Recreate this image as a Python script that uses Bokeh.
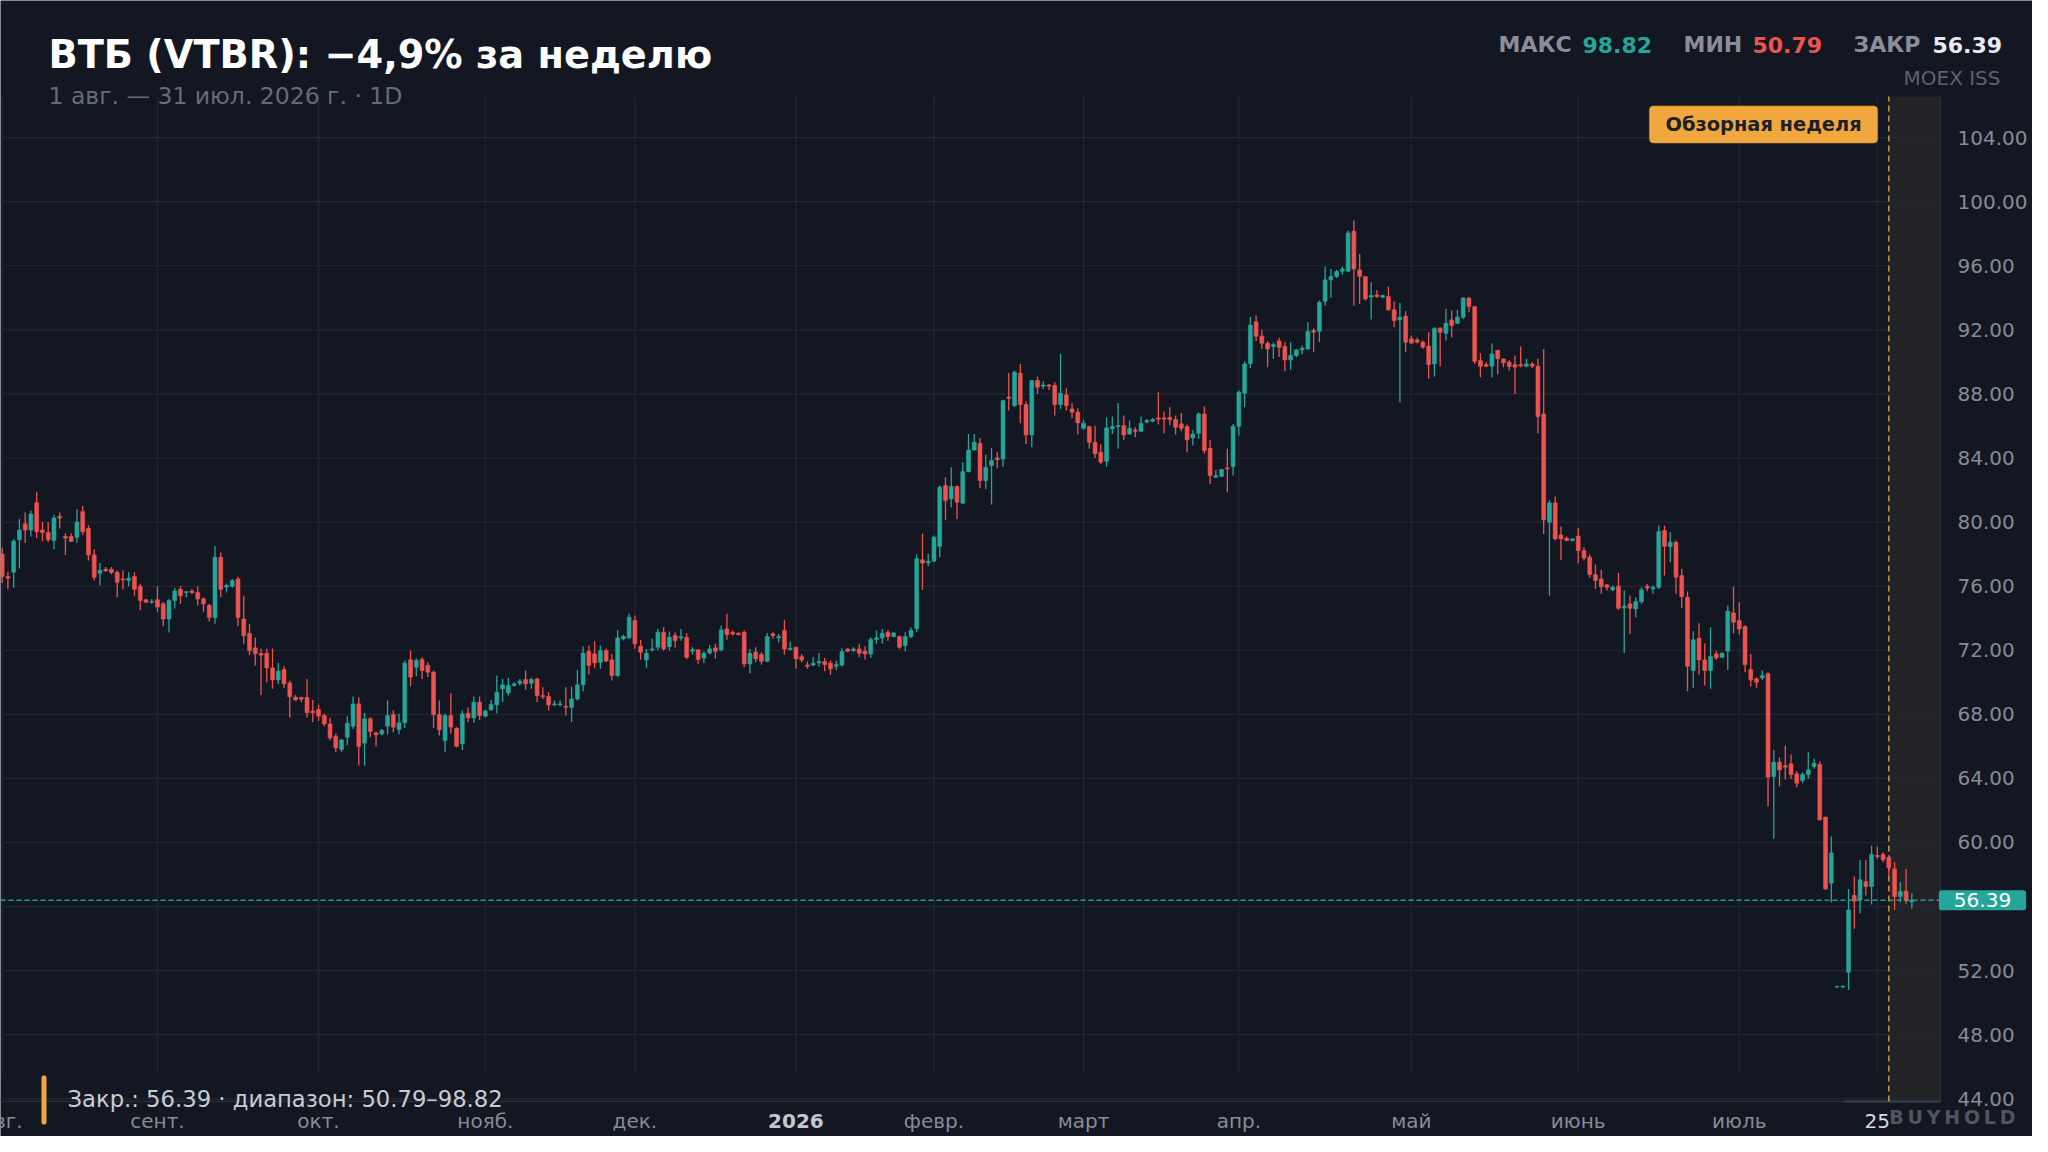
from bokeh.plotting import figure
from bokeh.models import (ColumnDataSource, Range1d, FixedTicker, NumeralTickFormatter,
                          Label, BoxAnnotation)
from bokeh.embed import file_html
from bokeh.resources import INLINE

# ---------------- data (daily candles, 1 Aug 2025 - 31 Jul 2026) ----------------
opens = [
    78.0, 76.6, 76.87, 78.9, 79.9, 79.5, 81.2, 79.5, 79.35, 78.85,
    80.35, 79.1, 79.1, 79.05, 80.65, 79.6, 77.95, 76.8, 77.05, 77.05,
    76.87, 76.45, 76.35, 76.6, 75.98, 75.15, 75.0, 75.15, 74.9, 73.95,
    75.1, 75.8, 75.6, 75.7, 75.6, 75.2, 74.8, 74.05, 77.8, 75.95,
    76.0, 76.45, 73.95, 73.05, 72.15, 71.8, 71.8, 70.9, 70.15, 70.8,
    69.95, 69.07, 69.05, 69.05, 68.2, 68.3, 67.92, 67.4, 66.63, 65.8,
    66.57, 67.26, 68.65, 66.2, 67.72, 66.84, 66.78, 67.26, 67.99, 67.05,
    67.47, 71.4, 70.94, 71.42, 71.05, 70.63, 67.99, 66.36, 67.92, 67.13,
    66.16, 68.07, 67.78, 68.76, 67.88, 68.28, 68.59, 69.59, 69.34, 69.8,
    69.94, 70.17, 69.94, 70.21, 69.17, 69.11, 68.59, 68.6, 68.5, 68.44,
    68.96, 69.84, 71.94, 71.78, 71.25, 71.98, 71.4, 70.42, 72.71, 72.77,
    73.85, 72.25, 71.4, 72.02, 72.19, 73.12, 72.23, 72.92, 72.77, 72.81,
    71.94, 72.02, 71.52, 71.83, 72.15, 72.02, 73.33, 73.12, 73.06, 73.12,
    71.15, 71.88, 71.73, 71.31, 73.02, 72.77, 73.23, 72.04, 72.19, 71.6,
    71.08, 71.08, 71.21, 71.29, 71.19, 71.0, 71.08, 72.08, 71.98, 72.08,
    71.94, 71.77, 72.67, 72.77, 73.12, 72.85, 72.85, 72.29, 72.85, 73.34,
    77.65, 77.46, 77.56, 78.48, 82.28, 81.45, 82.22, 81.18, 83.15, 84.5,
    84.92, 82.59, 83.53, 84.0, 83.94, 87.8, 87.27, 89.29, 87.34, 85.44,
    88.83, 88.48, 88.56, 88.52, 87.34, 87.94, 87.06, 86.86, 85.86, 85.96,
    84.98, 84.36, 83.8, 85.82, 85.96, 86.02, 85.5, 85.75, 85.67, 86.25,
    86.3, 86.5, 86.5, 86.54, 86.4, 86.13, 85.96, 85.25, 85.54, 86.75,
    84.61, 82.8, 82.86, 83.38, 83.47, 85.98, 88.04, 89.9, 92.5, 91.6,
    91.16, 90.96, 91.3, 90.96, 90.12, 90.4, 90.75, 90.81, 91.96, 91.91,
    93.79, 95.12, 95.33, 95.66, 95.66, 98.16, 95.74, 95.33, 94.04, 94.18,
    94.04, 94.08, 93.25, 92.62, 92.85, 91.44, 91.37, 91.23, 90.98, 89.87,
    92.1, 91.79, 92.62, 92.41, 92.79, 93.99, 93.45, 90.08, 89.83, 89.73,
    90.71, 90.19, 89.98, 89.83, 89.83, 89.73, 89.87, 89.73, 86.75, 79.99,
    81.2, 79.2, 78.99, 78.85, 79.12, 78.22, 77.81, 76.72, 76.45, 76.08,
    75.77, 76.0, 74.64, 74.89, 74.58, 75.04, 76.0, 75.83, 75.93, 79.47,
    78.47, 78.74, 76.66, 75.31, 70.73, 72.75, 71.4, 70.73, 71.77, 71.56,
    71.94, 74.33, 73.85, 73.48, 70.79, 70.21, 70.27, 70.53, 64.12, 65.01,
    64.8, 64.91, 64.28, 63.87, 64.24, 64.74, 64.87, 61.58, 57.46, 50.98,
    50.98, 51.9, 56.69, 56.42, 57.56, 57.25, 59.19, 59.25, 59.08, 58.35,
    56.63, 56.96, 56.3,
]
highs = [
    78.4, 76.9, 78.95, 80.2, 80.6, 80.7, 81.9, 80.0, 80.0, 80.45,
    80.6, 79.3, 79.3, 80.8, 81.0, 79.8, 78.3, 77.45, 77.2, 77.2,
    76.98, 77.0, 76.87, 76.87, 76.15, 75.2, 75.2, 76.0, 75.0, 75.2,
    75.9, 76.0, 75.7, 75.8, 75.98, 75.3, 74.9, 78.5, 78.1, 76.15,
    76.45, 76.6, 75.4, 73.65, 72.8, 72.1, 72.1, 72.1, 71.2, 71.0,
    70.1, 69.2, 69.1, 70.2, 68.9, 68.6, 68.03, 67.78, 66.78, 66.47,
    67.88, 69.11, 69.07, 68.09, 67.82, 66.93, 67.09, 68.86, 68.24, 68.03,
    71.36, 71.98, 71.5, 71.57, 71.25, 70.73, 68.86, 68.03, 69.32, 67.2,
    68.24, 68.44, 69.11, 69.11, 68.28, 68.9, 70.42, 70.21, 70.28, 70.0,
    70.21, 70.73, 70.28, 70.28, 69.69, 69.38, 68.86, 68.86, 69.69, 69.73,
    70.77, 72.23, 72.29, 72.56, 72.29, 72.09, 71.78, 73.27, 72.98, 74.27,
    74.17, 72.65, 72.08, 72.71, 73.33, 73.44, 73.17, 73.12, 73.33, 73.06,
    72.19, 72.08, 71.94, 72.33, 72.4, 73.54, 74.27, 73.23, 73.12, 73.23,
    72.08, 72.19, 71.88, 73.06, 73.12, 73.02, 73.9, 72.54, 72.19, 71.77,
    71.31, 71.6, 71.81, 71.52, 71.36, 71.36, 72.12, 72.12, 72.19, 72.4,
    72.23, 72.81, 73.23, 73.33, 73.27, 73.12, 72.92, 73.12, 73.44, 77.98,
    79.27, 78.02, 79.16, 82.28, 82.8, 83.43, 82.28, 83.74, 85.5, 85.5,
    85.25, 84.21, 84.63, 84.36, 87.63, 89.31, 89.46, 89.87, 87.54, 88.87,
    89.08, 88.79, 88.62, 88.73, 90.5, 88.35, 87.42, 87.1, 86.38, 86.02,
    86.02, 84.88, 86.54, 86.59, 87.44, 86.65, 86.34, 85.92, 86.59, 86.44,
    86.5, 88.1, 86.9, 87.17, 86.65, 86.81, 86.09, 85.75, 86.86, 87.21,
    85.13, 83.25, 83.32, 84.57, 86.13, 88.21, 90.04, 92.8, 92.9, 92.0,
    91.3, 91.2, 91.5, 91.23, 91.23, 90.81, 91.02, 92.48, 92.1, 93.83,
    95.95, 95.8, 95.74, 95.95, 98.2, 98.82, 96.74, 95.33, 94.97, 94.49,
    94.2, 94.7, 93.77, 93.68, 93.16, 91.64, 91.5, 91.33, 91.85, 92.16,
    92.16, 93.31, 93.2, 93.25, 94.04, 94.04, 93.45, 90.54, 89.98, 91.16,
    90.75, 90.19, 90.12, 90.4, 90.96, 90.19, 89.98, 90.19, 90.81, 81.38,
    81.59, 79.72, 79.1, 78.99, 79.64, 78.43, 77.97, 77.35, 77.01, 76.14,
    76.04, 76.83, 75.73, 75.41, 75.31, 75.93, 76.14, 76.04, 79.78, 79.78,
    79.37, 78.85, 77.08, 75.68, 73.19, 73.69, 72.44, 73.44, 71.98, 71.88,
    74.79, 75.97, 74.99, 73.54, 71.77, 70.31, 70.73, 70.63, 65.78, 65.32,
    66.05, 65.49, 64.45, 64.39, 65.64, 65.22, 65.07, 61.62, 60.37, 51.07,
    51.07, 57.1, 57.88, 58.91, 58.91, 59.81, 59.75, 59.39, 59.19, 58.77,
    57.52, 58.35, 56.83,
]
lows = [
    76.2, 75.8, 75.9, 77.1, 78.7, 79.1, 79.0, 78.8, 78.75, 78.3,
    79.6, 77.95, 78.75, 78.7, 79.2, 77.6, 76.35, 76.05, 76.9, 76.75,
    75.3, 75.8, 76.0, 75.4, 74.5, 74.95, 74.9, 74.4, 73.5, 73.1,
    74.6, 74.9, 75.3, 75.5, 74.8, 74.4, 73.8, 73.65, 75.3, 75.6,
    75.9, 73.5, 72.4, 71.7, 71.05, 69.2, 70.0, 69.6, 69.9, 69.65,
    67.8, 68.85, 68.75, 67.8, 67.5, 67.6, 67.26, 66.36, 65.64, 65.64,
    66.09, 67.09, 64.8, 64.8, 66.57, 66.01, 66.68, 66.74, 66.88, 66.74,
    67.15, 69.76, 70.38, 70.21, 70.32, 67.15, 66.68, 65.64, 66.78, 65.95,
    65.78, 67.51, 67.47, 67.65, 67.82, 68.24, 68.07, 68.76, 69.17, 69.73,
    69.8, 69.53, 69.59, 68.76, 68.96, 68.24, 68.51, 68.5, 67.92, 67.51,
    68.86, 69.44, 70.48, 70.88, 70.84, 71.3, 70.11, 70.32, 72.61, 72.71,
    72.09, 71.42, 70.9, 71.94, 71.98, 71.98, 71.98, 72.15, 72.6, 71.46,
    71.73, 71.15, 71.21, 71.73, 71.46, 71.94, 72.65, 72.92, 72.92, 70.94,
    70.57, 71.25, 71.1, 71.25, 72.71, 72.5, 71.73, 71.98, 70.84, 71.25,
    70.84, 71.0, 70.98, 70.69, 70.46, 70.77, 70.98, 71.88, 71.88, 71.56,
    71.42, 71.52, 72.4, 72.4, 72.6, 72.81, 72.08, 71.94, 72.77, 73.13,
    75.77, 77.25, 77.5, 77.81, 80.14, 80.93, 80.2, 81.13, 83.1, 84.46,
    82.11, 82.07, 81.09, 83.36, 83.46, 86.96, 87.17, 86.17, 84.88, 84.67,
    88.0, 88.31, 88.25, 86.65, 87.06, 86.96, 86.48, 85.46, 85.75, 84.57,
    84.0, 83.63, 83.46, 85.5, 84.57, 85.13, 85.46, 85.29, 85.61, 86.17,
    86.23, 86.09, 85.55, 86.06, 85.46, 85.67, 84.36, 84.78, 85.19, 84.26,
    82.38, 82.76, 82.8, 81.86, 82.9, 85.4, 87.17, 89.6, 91.3, 90.8,
    89.67, 90.19, 90.3, 89.42, 89.5, 90.29, 90.46, 90.75, 90.6, 91.23,
    93.52, 93.99, 95.24, 95.45, 95.6, 93.52, 93.62, 93.83, 92.64, 93.99,
    93.97, 93.2, 92.16, 87.48, 90.6, 91.12, 91.17, 90.81, 88.94, 89.08,
    89.73, 91.33, 91.54, 92.37, 92.68, 93.1, 89.87, 89.04, 89.67, 89.04,
    89.21, 89.67, 89.46, 88.0, 89.67, 89.67, 89.62, 85.55, 79.26, 75.41,
    78.85, 77.64, 78.8, 78.8, 77.43, 77.6, 76.52, 75.83, 75.52, 75.72,
    75.68, 74.52, 71.83, 73.02, 74.06, 74.89, 75.68, 75.52, 75.83, 76.66,
    77.49, 75.52, 74.64, 69.44, 69.65, 70.48, 69.8, 69.59, 71.4, 71.52,
    70.77, 73.06, 72.98, 70.63, 69.73, 69.65, 70.15, 62.24, 60.23, 63.49,
    63.91, 63.97, 63.45, 63.7, 63.97, 64.6, 61.37, 57.04, 56.27, 50.93,
    50.9, 50.79, 54.61, 55.59, 56.69, 56.13, 58.98, 58.77, 57.94, 55.79,
    56.27, 56.17, 55.86,
]
closes = [
    76.6, 76.5, 78.81, 79.5, 79.5, 80.5, 79.4, 79.35, 78.9, 80.25,
    80.25, 79.0, 78.8, 80.0, 79.4, 77.95, 76.55, 77.0, 76.95, 76.85,
    76.25, 76.4, 76.5, 75.8, 75.1, 75.0, 75.05, 74.7, 73.95, 75.1,
    75.7, 75.4, 75.65, 75.6, 75.2, 74.9, 74.05, 77.8, 75.8, 76.05,
    76.35, 74.05, 72.9, 71.98, 71.78, 71.7, 70.9, 70.15, 70.7, 69.9,
    69.1, 68.9, 68.95, 68.1, 68.1, 67.9, 67.4, 66.53, 65.9, 66.4,
    67.45, 68.65, 66.0, 67.72, 66.93, 66.72, 66.99, 67.92, 67.2, 67.47,
    71.19, 70.32, 71.36, 70.73, 70.63, 67.99, 67.03, 67.92, 67.2, 66.01,
    68.03, 67.78, 68.76, 67.92, 68.2, 68.61, 69.38, 69.84, 69.8, 69.9,
    70.07, 69.9, 70.17, 69.17, 69.11, 68.59, 68.65, 68.65, 68.44, 68.96,
    69.84, 71.82, 71.05, 71.21, 71.98, 71.32, 70.42, 72.77, 72.86, 74.06,
    72.4, 71.88, 71.81, 72.08, 73.12, 72.08, 72.81, 72.6, 72.85, 71.56,
    72.04, 71.42, 71.81, 72.08, 71.94, 73.27, 72.98, 73.02, 72.98, 71.15,
    71.81, 71.46, 71.31, 72.85, 72.92, 72.85, 72.08, 72.12, 71.46, 71.4,
    71.0, 71.19, 71.29, 71.11, 70.84, 71.1, 71.92, 71.94, 72.08, 71.81,
    71.77, 72.67, 72.77, 73.06, 72.85, 73.08, 72.19, 72.85, 73.23, 77.71,
    77.44, 77.56, 79.06, 82.18, 81.35, 82.22, 81.24, 83.15, 84.5, 84.98,
    82.59, 83.42, 83.84, 83.9, 87.58, 87.73, 89.35, 87.34, 85.44, 88.83,
    88.42, 88.56, 88.48, 87.34, 88.04, 87.27, 86.86, 86.19, 86.17, 84.98,
    84.26, 83.74, 85.88, 85.96, 86.02, 85.44, 85.85, 85.67, 86.17, 86.34,
    86.4, 86.42, 86.42, 86.4, 85.92, 85.86, 85.13, 85.5, 86.75, 84.46,
    82.9, 82.9, 83.28, 83.32, 85.98, 88.11, 89.87, 92.3, 91.6, 91.16,
    90.81, 91.08, 90.9, 90.12, 90.4, 90.75, 90.85, 91.91, 91.85, 93.72,
    95.12, 95.33, 95.64, 95.8, 98.05, 95.8, 95.33, 93.93, 94.14, 94.08,
    94.14, 93.25, 92.58, 92.79, 91.23, 91.17, 91.23, 90.92, 89.83, 92.1,
    91.85, 92.41, 92.27, 92.79, 93.99, 93.45, 90.04, 89.73, 89.73, 90.5,
    90.19, 89.94, 89.71, 89.67, 89.75, 89.87, 89.73, 86.59, 80.14, 81.2,
    78.95, 78.95, 78.85, 78.95, 78.22, 77.76, 76.72, 76.35, 75.97, 75.93,
    75.93, 74.62, 74.75, 74.62, 75.04, 75.77, 75.89, 75.93, 79.41, 78.49,
    78.74, 76.56, 75.35, 71.0, 72.65, 71.4, 70.73, 71.61, 71.52, 71.81,
    74.44, 73.75, 73.33, 71.1, 70.15, 70.0, 70.42, 64.08, 65.01, 64.53,
    64.7, 64.24, 63.7, 64.24, 64.53, 64.95, 61.41, 57.1, 59.35, 51.0,
    51.02, 55.79, 56.34, 57.67, 57.25, 59.25, 59.12, 58.92, 58.42, 56.63,
    56.94, 56.38, 56.39,
]

# x-axis: candle index of the first session of each month (+ the "25" day tick)
month_ticks = [0, 27, 55, 84, 110, 138, 162, 188, 215, 245, 274, 302, 326]
month_labels = ["авг.", "сент.", "окт.", "нояб.", "дек.", "2026", "февр.", "март",
                "апр.", "май", "июнь", "июль", "25"]
price_ticks = [44, 48, 52, 56, 60, 64, 68, 72, 76, 80, 84, 88, 92, 96, 100, 104]
review_week_start = 328
last_close = 56.39
max_high = 98.82
min_low = 50.79

title_text = "ВТБ (VTBR): −4,9% за неделю"
subtitle_text = "1 авг. — 31 июл. 2026 г. · 1D"

# ---------------- styling ----------------
FONT = "DejaVu Sans"
BG = "#131722"
GRID = "#232733"
UP = "#26a69a"
DOWN = "#ef5350"
AXIS_TXT = "#878b96"
ORANGE = "#f0a83e"
W, H = 2032, 1136


# layout helpers: canvas pixel -> data coordinates
def dx(px):
    return (px - 1.67) / 5.752


def dy(py):
    return 104 - (py - 137.1) / 16.02


PLOT_L, PLOT_R = dx(0), dx(1940)
PLOT_T, PLOT_B = dy(96), dy(1101)
XLAB_Y = dy(1120)

n = len(closes)
xs = list(range(n))
src = ColumnDataSource(dict(
    x=xs, o=opens, h=highs, l=lows, c=closes,
    top=[max(a, b) for a, b in zip(opens, closes)],
    bot=[min(a, b) for a, b in zip(opens, closes)],
    color=[UP if c >= o else DOWN for o, c in zip(opens, closes)],
))

p = figure(width=W, height=H, output_backend="svg", toolbar_location=None,
           x_range=Range1d(dx(0), dx(W)), y_range=Range1d(dy(H), dy(0)),
           x_axis_location="below", y_axis_location="right", title_location=None,
           background_fill_color=BG, border_fill_color=BG,
           min_border=0, min_border_left=0, min_border_right=0,
           min_border_top=0, min_border_bottom=0)
p.outline_line_color = None
p.xgrid.visible = False
p.ygrid.visible = False

# review-week shading (under everything)
p.add_layout(BoxAnnotation(left=review_week_start, right=PLOT_R, bottom=PLOT_B, top=PLOT_T,
                           fill_color="#222327", fill_alpha=1.0, line_color=None,
                           level="image"))

# grid lines limited to the plot area
p.segment(x0=month_ticks, y0=[dy(1073)] * len(month_ticks), x1=month_ticks,
          y1=[PLOT_T] * len(month_ticks), line_color=GRID, line_width=1.2)
p.segment(x0=[PLOT_L] * len(price_ticks), y0=price_ticks, x1=[PLOT_R] * len(price_ticks),
          y1=price_ticks, line_color=GRID, line_width=1.2)
# plot-area borders
p.segment(x0=[PLOT_L], y0=[PLOT_B], x1=[PLOT_R], y1=[PLOT_B], line_color="#282c37", line_width=1.5)
p.segment(x0=[PLOT_R], y0=[PLOT_B], x1=[PLOT_R], y1=[PLOT_T], line_color="#2a2d35", line_width=1.5)
p.segment(x0=[dx(1844)], y0=[PLOT_B], x1=[PLOT_R], y1=[PLOT_B], line_color="#3a3e49", line_width=2)

# review-week marker
p.segment(x0=[review_week_start], y0=[PLOT_B], x1=[review_week_start], y1=[PLOT_T],
          line_color=ORANGE, line_alpha=0.85, line_width=1.5, line_dash="6 4")

# candles
p.segment(x0="x", y0="l", x1="x", y1="h", line_color="color", line_width=1.3, source=src)
p.vbar(x="x", width=0.68, top="top", bottom="bot", fill_color="color",
       line_color="color", line_width=0.6, source=src)

# last price line
p.segment(x0=[PLOT_L], y0=[last_close], x1=[PLOT_R], y1=[last_close],
          line_color=UP, line_alpha=0.9, line_width=1.5, line_dash="5 3")

# y axis (right), pinned to the plot-area edge
p.yaxis.fixed_location = PLOT_R
p.yaxis.ticker = FixedTicker(ticks=[t for t in price_ticks if abs(t - last_close) > 2])
p.yaxis.formatter = NumeralTickFormatter(format="0.00")
p.yaxis.major_label_text_font = FONT
p.yaxis.major_label_text_font_size = "20px"
p.yaxis.major_label_text_color = AXIS_TXT
p.yaxis.major_label_standoff = 17
p.yaxis.major_tick_out = 0
p.yaxis.major_tick_in = 0
p.yaxis.axis_line_color = None
p.yaxis.major_tick_line_color = None
p.yaxis.minor_tick_line_color = None

# x axis (below), pinned to the plot-area bottom
p.xaxis.fixed_location = PLOT_B
p.xaxis.ticker = FixedTicker(ticks=month_ticks)
special = {"2026", "25", "авг."}
p.xaxis.major_label_overrides = {t: ("" if lab in special else lab)
                                 for t, lab in zip(month_ticks, month_labels)}
p.xaxis.major_label_text_font = FONT
p.xaxis.major_label_text_font_size = "20px"
p.xaxis.major_label_text_color = AXIS_TXT
p.xaxis.major_label_standoff = 7
p.xaxis.major_tick_out = 0
p.xaxis.major_tick_in = 0
p.xaxis.axis_line_color = None
p.xaxis.major_tick_line_color = None
p.xaxis.minor_tick_line_color = None


# ---------- texts ----------
def lab(text, x, y, size, color, bold=False, align="left", **kw):
    lb = Label(x=x, y=y, x_units="data", y_units="data", text=text, text_font=FONT,
               text_font_size=f"{size}px", text_color=color,
               text_font_style="bold" if bold else "normal",
               text_align=align, text_baseline="middle", **kw)
    p.add_layout(lb)
    return lb


lab(title_text, dx(48), dy(54), 38.3, "#ffffff", bold=True)
lab(subtitle_text, dx(48), dy(95), 23.5, "#666b78")

lab("МАКС", dx(1498), dy(44), 22, "#8a8e98", bold=True)
lab(f"{max_high:.2f}", dx(1582), dy(44), 22, UP, bold=True)
lab("МИН", dx(1683), dy(44), 22, "#8a8e98", bold=True)
lab(f"{min_low:.2f}", dx(1752), dy(44), 22, DOWN, bold=True)
lab("ЗАКР", dx(1853), dy(44), 22, "#8a8e98", bold=True)
lab(f"{last_close:.2f}", dx(1932), dy(44), 22, "#e8eaee", bold=True)
lab("MOEX ISS", dx(2000), dy(77), 20, "#5d6270", align="right")

lab("Обзорная неделя", dx(1763), dy(124), 19.4, "#1b1f2a", bold=True, align="center",
    background_fill_color=ORANGE, border_line_color="#c98a2c", border_line_alpha=0.6,
    padding=dict(left=16, right=16, top=7, bottom=7), border_radius=4)

lab(f"{last_close:.2f}", dx(1982), last_close, 20, "#ffffff", align="center",
    background_fill_color=UP, padding=dict(left=15, right=15, top=3, bottom=3),
    border_radius=3)

# x labels with special styling
lab("авг.", month_ticks[0], XLAB_Y, 20, AXIS_TXT, align="center")
lab("2026", month_ticks[5], XLAB_Y, 20, "#c3c7cf", bold=True, align="center")
lab("25", month_ticks[12], XLAB_Y, 20, "#d8dbe2", align="center")

# bottom-left caption with orange accent
p.add_layout(BoxAnnotation(left=dx(41), right=dx(46), top=dy(1075), bottom=dy(1124),
                           fill_color=ORANGE, fill_alpha=1.0, line_color=None,
                           border_radius=2))
lab(f"Закр.: {last_close:.2f} · диапазон: {min_low:.2f}–{max_high:.2f}",
    dx(67), dy(1098), 22.7, "#c9ccd4")

lab("\u2009".join("BUYHOLD"), dx(2015), dy(1116), 19, "#50555f", bold=True, align="right")

open("out.html", "w").write(file_html(p, INLINE))
